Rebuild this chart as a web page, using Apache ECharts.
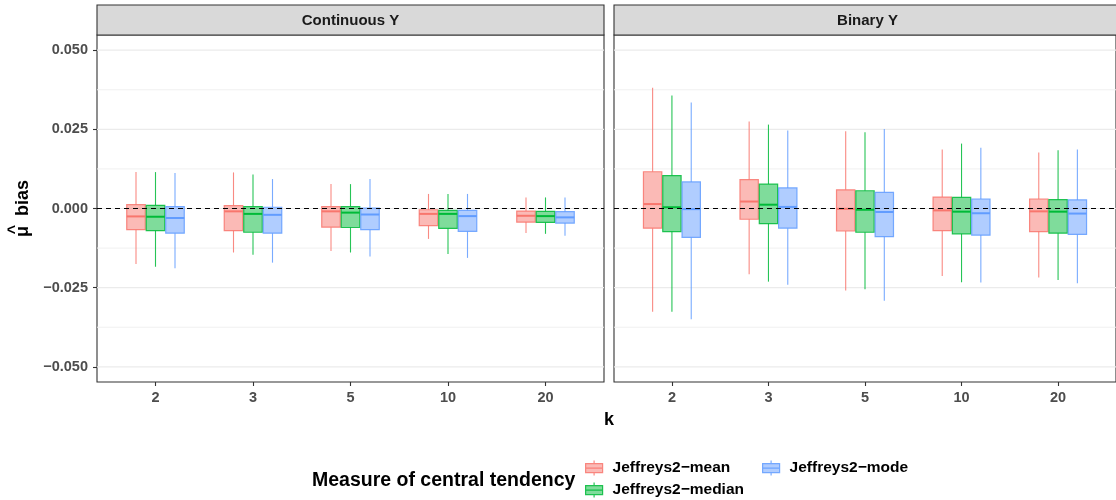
<!DOCTYPE html>
<html>
<head>
<meta charset="utf-8">
<script src="https://cdn.jsdelivr.net/npm/echarts@6/dist/echarts.min.js"></script>
<style>
  html, body { margin: 0; padding: 0; background: #ffffff; }
  #chart { width: 1116px; height: 500px; }
</style>
</head>
<body>
<div id="chart"></div>
<script>
// Categories and labels
const kLabels = ['2', '3', '5', '10', '20'];
const facetTitles = ['Continuous Y', 'Binary Y'];
const methodNames = ['Jeffreys2\u2212mean', 'Jeffreys2\u2212median', 'Jeffreys2\u2212mode'];
const yTickValues = [-0.05, -0.025, 0, 0.025, 0.05];
const yMinorValues = [-0.0375, -0.0125, 0.0125, 0.0375];
const referenceValue = [0];

// Box statistics per k: [lower whisker, Q1, median, Q3, upper whisker]
const contMean = [
  [-0.0175, -0.0067, -0.0025, 0.0012, 0.0115],
  [-0.0139, -0.0070, -0.0009, 0.0009, 0.0114],
  [-0.0134, -0.0059, -0.0009, 0.0006, 0.0077],
  [-0.0096, -0.0054, -0.0017, -0.0004, 0.0046],
  [-0.0077, -0.0043, -0.0023, -0.0008, 0.0035]
];
const contMedian = [
  [-0.0184, -0.0070, -0.0026, 0.0010, 0.0115],
  [-0.0146, -0.0075, -0.0017, 0.0006, 0.0107],
  [-0.0139, -0.0060, -0.0013, 0.0006, 0.0077],
  [-0.0144, -0.0063, -0.0017, -0.0006, 0.0046],
  [-0.0080, -0.0044, -0.0024, -0.0009, 0.0035]
];
const contMode = [
  [-0.0189, -0.0078, -0.0030, 0.0006, 0.0112],
  [-0.0171, -0.0078, -0.0020, 0.0004, 0.0093],
  [-0.0152, -0.0067, -0.0019, 0.0001, 0.0093],
  [-0.0156, -0.0072, -0.0024, -0.0006, 0.0046],
  [-0.0086, -0.0046, -0.0028, -0.0010, 0.0035]
];
const binMean = [
  [-0.0326, -0.0062, 0.0014, 0.0116, 0.0381],
  [-0.0208, -0.0034, 0.0022, 0.0091, 0.0275],
  [-0.0259, -0.0071, -0.0001, 0.0059, 0.0244],
  [-0.0213, -0.0070, -0.0006, 0.0036, 0.0186],
  [-0.0218, -0.0073, -0.0009, 0.0030, 0.0177]
];
const binMedian = [
  [-0.0326, -0.0073, 0.0004, 0.0104, 0.0357],
  [-0.0231, -0.0048, 0.0012, 0.0077, 0.0265],
  [-0.0255, -0.0075, -0.0004, 0.0056, 0.0241],
  [-0.0233, -0.0080, -0.0010, 0.0035, 0.0205],
  [-0.0226, -0.0078, -0.0010, 0.0028, 0.0184]
];
const binMode = [
  [-0.0350, -0.0091, -0.0002, 0.0084, 0.0335],
  [-0.0241, -0.0062, 0.0005, 0.0065, 0.0246],
  [-0.0291, -0.0089, -0.0011, 0.0051, 0.0251],
  [-0.0234, -0.0084, -0.0015, 0.0030, 0.0192],
  [-0.0236, -0.0082, -0.0016, 0.0027, 0.0186]
];

const panelStats = [
  [contMean, contMedian, contMode],
  [binMean, binMedian, binMode]
];

// Styling
const lineColors = ['rgba(248,118,109,0.85)', 'rgba(0,186,56,0.85)', 'rgba(97,156,255,0.85)'];
const medianColors = ['#F8766D', '#00BA38', '#619CFF'];
const fillColors = ['rgba(248,118,109,0.5)', 'rgba(0,186,56,0.5)', 'rgba(97,156,255,0.5)'];
const dodge = [-0.2, 0, 0.2];
const BOX_WIDTH = 0.19;
const FONT = '"Liberation Sans", Arial, Helvetica, sans-serif';

const panels = [
  { left: 97, top: 35, width: 507, height: 347 },
  { left: 614, top: 35, width: 507, height: 347 }
];

function boxRenderer(m) {
  return function (params, api) {
    const x = api.value(0) + dodge[m];
    const lo = api.coord([x, api.value(1)]);
    const q1 = api.coord([x, api.value(2)]);
    const md = api.coord([x, api.value(3)]);
    const q3 = api.coord([x, api.value(4)]);
    const hi = api.coord([x, api.value(5)]);
    const hw = api.size([BOX_WIDTH, 0])[0] / 2;
    const cx = md[0];
    const whisker = { stroke: lineColors[m], lineWidth: 1.1 };
    return {
      type: 'group',
      children: [
        { type: 'line', shape: { x1: cx, y1: hi[1], x2: cx, y2: q3[1] }, style: whisker },
        { type: 'line', shape: { x1: cx, y1: q1[1], x2: cx, y2: lo[1] }, style: whisker },
        { type: 'rect', shape: { x: cx - hw, y: q3[1], width: 2 * hw, height: q1[1] - q3[1] },
          style: { fill: fillColors[m], stroke: lineColors[m], lineWidth: 1.2 } },
        { type: 'line', shape: { x1: cx - hw, y1: md[1], x2: cx + hw, y2: md[1] },
          style: { stroke: medianColors[m], lineWidth: 2 } }
      ]
    };
  };
}

// Full-width horizontal rule at a y value, spanning the panel
function hRule(style) {
  return function (params, api) {
    const cs = params.coordSys;
    const y = api.coord([0, api.value(0)])[1];
    return { type: 'line', shape: { x1: cs.x, y1: y, x2: cs.x + cs.width, y2: y }, style: style };
  };
}

const grids = panels.map(p => ({
  left: p.left, top: p.top, width: p.width, height: p.height,
  show: true, backgroundColor: '#ffffff', borderColor: '#333333', borderWidth: 1.1,
  containLabel: false
}));

const xAxes = panels.map((p, i) => ({
  type: 'value', gridIndex: i, min: -0.6, max: 4.6,
  axisLine: { show: false, onZero: false },
  splitLine: { show: false },
  axisTick: { show: true, customValues: [0, 1, 2, 3, 4], length: 4, lineStyle: { color: '#333333', width: 1.1 } },
  axisLabel: {
    customValues: [0, 1, 2, 3, 4], margin: 8,
    formatter: v => kLabels[Math.round(v)],
    color: '#4D4D4D', fontWeight: 'bold', fontSize: 14.5, fontFamily: FONT
  }
}));

const yAxes = panels.map((p, i) => ({
  type: 'value', gridIndex: i, min: -0.0548, max: 0.0548,
  axisLine: { show: false, onZero: false },
  splitLine: { show: false },
  axisTick: { show: i === 0, customValues: yTickValues, length: 4, lineStyle: { color: '#333333', width: 1.1 } },
  axisLabel: {
    show: i === 0, customValues: yTickValues, margin: 9,
    formatter: v => (v < 0 ? '\u2212' : '') + Math.abs(v).toFixed(3),
    color: '#4D4D4D', fontWeight: 'bold', fontSize: 14.5, fontFamily: FONT
  }
}));

const series = [];
panels.forEach((p, i) => {
  series.push({
    type: 'custom', xAxisIndex: i, yAxisIndex: i, z: 1, silent: true,
    renderItem: hRule({ stroke: '#F0F0F0', lineWidth: 1 }),
    data: yMinorValues.map(v => [v]), encode: { y: 0 }
  });
  series.push({
    type: 'custom', xAxisIndex: i, yAxisIndex: i, z: 1, silent: true,
    renderItem: hRule({ stroke: '#EBEBEB', lineWidth: 1.2 }),
    data: yTickValues.map(v => [v]), encode: { y: 0 }
  });
  panelStats[i].forEach((stats, m) => {
    series.push({
      type: 'custom', name: methodNames[m], xAxisIndex: i, yAxisIndex: i, z: 3,
      itemStyle: { color: fillColors[m], borderColor: lineColors[m] },
      renderItem: boxRenderer(m),
      data: stats.map((s, k) => [k].concat(s)),
      encode: { x: 0, y: [1, 2, 3, 4, 5] }
    });
  });
  series.push({
    type: 'custom', xAxisIndex: i, yAxisIndex: i, z: 10, silent: true,
    renderItem: hRule({ stroke: '#000000', lineWidth: 1.1, lineDash: [5, 4] }),
    data: referenceValue.map(v => [v]), encode: { y: 0 }
  });
});

const boxIcon = 'path://M8.5,0L8.5,3M0,3L17,3L17,12L0,12ZM0,7.5L17,7.5M8.5,12L8.5,15';
const legendText = { color: '#000000', fontWeight: 'bold', fontSize: 15.5, fontFamily: FONT, padding: [0, 0, 0, 5] };
const legendSlots = [
  { left: 585, top: 460 },
  { left: 585, top: 482 },
  { left: 762, top: 460 }
];
const legends = methodNames.map((name, m) => ({
  orient: 'horizontal', left: legendSlots[m].left, top: legendSlots[m].top,
  itemWidth: 17, itemHeight: 15, padding: 0,
  data: [{ name: name, icon: boxIcon,
    itemStyle: { color: fillColors[m], borderColor: lineColors[m], borderWidth: 1.2 } }],
  textStyle: legendText
}));

const graphics = [];
panels.forEach((p, i) => {
  graphics.push({
    type: 'rect', silent: true, z: 5,
    shape: { x: p.left, y: 5, width: p.width, height: 30 },
    style: { fill: '#D9D9D9', stroke: '#333333', lineWidth: 1.1 }
  });
  graphics.push({
    type: 'text', silent: true, z: 6,
    x: p.left + p.width / 2, y: 20.5,
    style: { text: facetTitles[i], align: 'center', verticalAlign: 'middle',
      fill: '#1A1A1A', font: 'bold 15px ' + FONT }
  });
});
// y-axis title: mu with a hat, then "bias", rotated to read upwards
graphics.push({
  type: 'group', silent: true, x: 23, y: 208.5, rotation: Math.PI / 2,
  children: [
    { type: 'text', x: 0, y: 0,
      style: { text: '\u03BC  bias', align: 'center', verticalAlign: 'middle',
        fill: '#000000', font: 'bold 18px ' + FONT } },
    { type: 'text', x: -21, y: -8,
      style: { text: '^', align: 'center', verticalAlign: 'middle',
        fill: '#000000', font: 'bold 16px ' + FONT } }
  ]
});
graphics.push({
  type: 'text', silent: true, x: 609, y: 420,
  style: { text: 'k', align: 'center', verticalAlign: 'middle', fill: '#000000', font: 'bold 18px ' + FONT }
});
graphics.push({
  type: 'text', silent: true, x: 312, y: 481,
  style: { text: 'Measure of central tendency', align: 'left', verticalAlign: 'middle',
    fill: '#000000', font: 'bold 19.5px ' + FONT }
});

const chart = echarts.init(document.getElementById('chart'), null, { renderer: 'canvas' });
chart.setOption({
  animation: false,
  backgroundColor: '#ffffff',
  grid: grids,
  xAxis: xAxes,
  yAxis: yAxes,
  legend: legends,
  graphic: graphics,
  series: series
});
</script>
</body>
</html>
